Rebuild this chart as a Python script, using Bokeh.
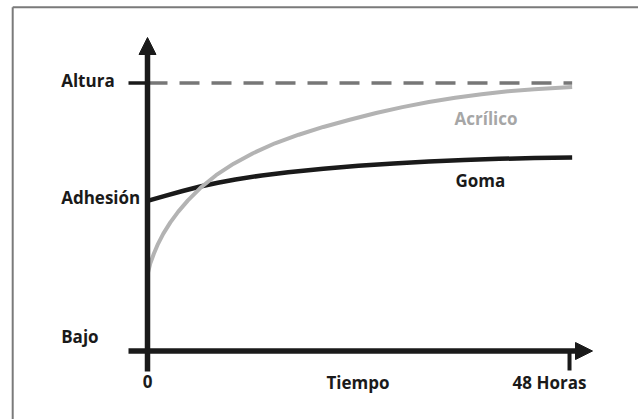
from bokeh.plotting import figure
from bokeh.models import Range1d, Arrow, NormalHead, ColumnDataSource
from bokeh.core.properties import value
from bokeh.embed import file_html
from bokeh.resources import INLINE

# ---------------- data ----------------
hours_acrilico = [0.0, 0.3, 0.72, 1.2, 1.8, 2.6, 3.5, 4.6, 6.0, 7.8, 9.8, 12.0,
                  14.5, 17.2, 20.0, 23.0, 26.0, 29.0, 32.0, 35.0, 38.0, 41.0,
                  44.0, 48.3]
level_acrilico = [28.5, 32.5, 36.3, 40.0, 43.8, 48.0, 52.0, 56.2, 60.8, 65.6,
                  69.9, 73.8, 77.5, 80.7, 83.6, 86.3, 88.8, 91.0, 92.9, 94.5,
                  95.8, 96.9, 97.7, 98.5]
hours_goma = [0.0, 2.0, 4.0, 6.0, 8.0, 10.0, 13.0, 16.0, 20.0, 24.0, 28.0,
              32.0, 36.0, 40.0, 44.0, 48.3]
level_goma = [56.0, 57.9, 59.7, 61.4, 62.8, 64.0, 65.5, 66.7, 68.0, 69.1, 70.0,
              70.7, 71.3, 71.7, 72.0, 72.2]
level_altura = 100.0
level_bajo = 0.0
time_end = 48.0
y_labels = ["Altura", "Adhesión", "Bajo"]
x_labels = ["0", "Tiempo", "48 Horas"]
series_names = ["Acrílico", "Goma"]

# ---------------- layout ----------------
W, H = 638, 419
LEFT, TOP = 0, 0          # page position of the canvas
PX0, KX = 147.0, 8.792    # page x of hour 0, px per hour
PY0, KY = 350.5, 2.68     # page y of level 0, px per level unit
TXT_DY = -6.5             # text placement correction (px)

def hx(px):
    return (px - PX0) / KX

def vy(py):
    return (PY0 - py) / KY

def ty(py):
    return vy(py + TXT_DY)

xs, xe = hx(LEFT), hx(LEFT + W)
ye, ys = vy(TOP), vy(TOP + H)

p = figure(width=W, height=H, output_backend="svg", toolbar_location=None,
           x_range=Range1d(xs, xe), y_range=Range1d(ys, ye),
           x_axis_type=None, y_axis_type=None, min_border=0)
p.grid.visible = False
p.outline_line_color = None
p.outline_line_alpha = 0
p.background_fill_color = "white"
p.border_fill_color = "white"

INK = "#1a1a1a"
FONT = value("Open Sans")

# frame border (top and left only visible)
p.line([hx(12.2), xe], [vy(6.8), vy(6.8)], line_color="#7a7a7a", line_width=2)
p.line([hx(12.2), hx(12.2)], [vy(6.8), ys], line_color="#7a7a7a", line_width=2)

# dashed reference line at Altura
p.line([0, hours_acrilico[-1]], [level_altura, level_altura], line_color="#777777",
       line_width=3.5, line_dash="20 12", line_dash_offset=0)

# curves
p.line(hours_goma, level_goma, line_color=INK, line_width=4.5, line_join="round")
p.line(hours_acrilico, level_acrilico, line_color="#b3b3b3", line_width=4,
       line_join="round")

# axes with arrow heads
p.add_layout(Arrow(end=NormalHead(size=17, fill_color=INK, line_color=INK, line_width=1),
                   x_start=0, y_start=vy(371), x_end=0, y_end=vy(37),
                   line_color=INK, line_width=5.5))
p.add_layout(Arrow(end=NormalHead(size=17, fill_color=INK, line_color=INK, line_width=1),
                   x_start=hx(128), y_start=level_bajo, x_end=hx(592), y_end=level_bajo,
                   line_color=INK, line_width=5.5))

# ticks
p.line([hx(128), 0], [level_altura, level_altura], line_color=INK, line_width=3.5)
p.line([time_end, time_end], [level_bajo, vy(370)], line_color=INK, line_width=4)

# labels
ylab = ColumnDataSource(dict(x=[hx(60.7)] * 3, y=[ty(86.7), ty(203.3), ty(342.5)],
                             t=y_labels))
p.text("x", "y", text="t", source=ylab, text_font=FONT, text_font_style="bold",
       text_font_size="17px", text_color=INK, text_align="left",
       text_baseline="alphabetic")

xlab = ColumnDataSource(dict(x=[0, hx(357.5), hx(549)],
                             y=[ty(387), ty(388.3), ty(388.3)], t=x_labels))
p.text("x", "y", text="t", source=xlab, text_font=FONT, text_font_style="bold",
       text_font_size="17px", text_color=INK, text_align="center",
       text_baseline="alphabetic")

p.text([hx(454)], [ty(124.3)], text=[series_names[0]], text_font=FONT,
       text_font_style="bold", text_font_size="17px", text_color="#a6a6a6",
       text_align="left", text_baseline="alphabetic")
p.text([hx(455)], [ty(186.7)], text=[series_names[1]], text_font=FONT,
       text_font_style="bold", text_font_size="17px", text_color=INK,
       text_align="left", text_baseline="alphabetic")

open("out.html", "w").write(file_html(p, INLINE))
